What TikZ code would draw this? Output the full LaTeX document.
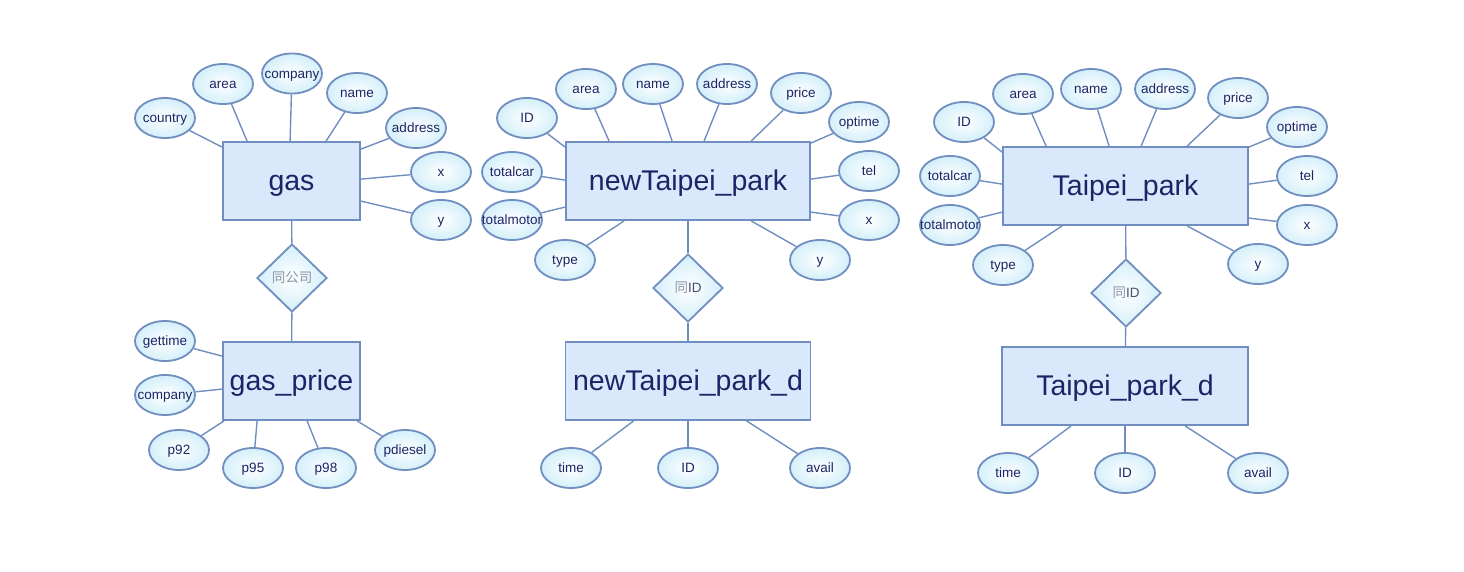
\documentclass[tikz,border=0pt]{standalone}
\usepackage{fontspec}
\setmainfont{Liberation Sans}
\newfontfamily\cjk{Noto Sans CJK SC}
\usetikzlibrary{shapes.geometric,calc}
\definecolor{entfill}{RGB}{218,232,252}
\definecolor{edgeblue}{RGB}{112,142,192}
\definecolor{attrout}{RGB}{212,239,250}
\definecolor{navy}{RGB}{28,36,102}
\definecolor{cjkgray}{RGB}{140,150,165}
\definecolor{idgray}{RGB}{70,80,110}
\newcommand{\mz}[1]{\makebox[0pt]{#1}}
\begin{document}
\begin{tikzpicture}[x=1pt,y=-1pt,
  ent/.style={draw=edgeblue, line width=1.8pt, fill=entfill, minimum height=78pt, inner sep=0pt, font=\fontsize{28.5}{30}\selectfont, text=navy, text height=25.8pt, text depth=6.04pt},
  attr/.style={ellipse, draw=edgeblue, line width=1.8pt, inner color=white, outer color=attrout, minimum width=60pt, minimum height=40pt, inner sep=0pt, font=\fontsize{13.5}{15}\selectfont, text=navy, text height=12.2pt, text depth=2.86pt},
  rel/.style={diamond, draw=edgeblue, line width=1.8pt, inner color=white, outer color=attrout, minimum width=70pt, minimum height=68pt, inner sep=0pt, font=\fontsize{13.5}{15}\selectfont, text height=12.2pt, text depth=2.86pt},
  conn/.style={draw=edgeblue, line width=1.4pt}]
\useasboundingbox[fill=white] (0,0) rectangle (1464,572);

% ---------- gas ----------
\node[ent, minimum width=137pt] (gas) at (291.5,181) {gas};
\node[attr] (gcountry) at (165,118) {\mz{country}};
\node[attr] (garea) at (223,84) {\mz{area}};
\node[attr] (gcomp) at (292,73.5) {\mz{company}};
\node[attr] (gname) at (357,93) {\mz{name}};
\node[attr] (gaddr) at (416,128) {\mz{address}};
\node[attr] (gx) at (441,172) {\mz{x}};
\node[attr] (gy) at (441,220) {\mz{y}};
\node[rel] (r1) at (292,278) {\mz{\cjk\color{cjkgray}同公司}};
\node[ent, minimum width=137pt] (gp) at (291.5,381) {gas\_price};
\node[attr] (gpt) at (165,341) {\mz{gettime}};
\node[attr] (gpc) at (165,395) {\mz{company}};
\node[attr] (p92) at (179,450) {\mz{p92}};
\node[attr] (p95) at (253,468) {\mz{p95}};
\node[attr] (p98) at (326,468) {\mz{p98}};
\node[attr] (pdiesel) at (405,450) {\mz{pdiesel}};

\draw[conn] (gcountry) -- ($(gas.north west)+(0,6)$);
\draw[conn] (garea) -- ($(gas.north west)+(25,0)$);
\draw[conn] (gcomp) -- ($(gas.north west)+(68,0)$);
\draw[conn] (gname) -- ($(gas.north west)+(104,0)$);
\draw[conn] (gaddr) -- ($(gas.north east)+(0,8)$);
\draw[conn] (gx) -- ($(gas.north east)+(0,38)$);
\draw[conn] (gy) -- ($(gas.north east)+(0,60)$);
\draw[conn] (gas) -- (r1);
\draw[conn] (r1) -- (gp);
\draw[conn] (gpt) -- ($(gp.north west)+(0,15)$);
\draw[conn] (gpc) -- ($(gp.north west)+(0,48)$);
\draw[conn] (p92) -- ($(gp.south west)+(2,0)$);
\draw[conn] (p95) -- ($(gp.south west)+(35,0)$);
\draw[conn] (p98) -- ($(gp.south west)+(85,0)$);
\draw[conn] (pdiesel) -- ($(gp.south west)+(135,0)$);

% ---------- newTaipei_park ----------
\node[ent, minimum width=244pt] (nt) at (688,181) {newTaipei\_park};
\node[attr] (ntid) at (527,118) {\mz{ID}};
\node[attr] (ntarea) at (586,89) {\mz{area}};
\node[attr] (ntname) at (653,84) {\mz{name}};
\node[attr] (ntaddr) at (727,84) {\mz{address}};
\node[attr] (ntprice) at (801,93) {\mz{price}};
\node[attr] (ntopt) at (859,122) {\mz{optime}};
\node[attr] (ntcar) at (512,172) {\mz{totalcar}};
\node[attr] (ntmotor) at (512,220) {\mz{totalmotor}};
\node[attr] (nttype) at (565,260) {\mz{type}};
\node[attr] (nttel) at (869,171) {\mz{tel}};
\node[attr] (ntx) at (869,220) {\mz{x}};
\node[attr] (nty) at (820,260) {\mz{y}};
\node[rel] (r2) at (688,288) {\mz{{\cjk\color{cjkgray}同}\color{idgray}ID}};
\node[ent, minimum width=245pt] (ntd) at (688,381) {newTaipei\_park\_d};
\node[attr] (ntdtime) at (571,468) {\mz{time}};
\node[attr] (ntdid) at (688,468) {\mz{ID}};
\node[attr] (ntdavail) at (820,468) {\mz{avail}};

\draw[conn] (ntid) -- ($(nt.north west)+(0,6)$);
\draw[conn] (ntarea) -- ($(nt.north west)+(44,0)$);
\draw[conn] (ntname) -- ($(nt.north west)+(107,0)$);
\draw[conn] (ntaddr) -- ($(nt.north west)+(139,0)$);
\draw[conn] (ntprice) -- ($(nt.north west)+(186,0)$);
\draw[conn] (ntopt) -- ($(nt.north east)+(0,2)$);
\draw[conn] (ntcar) -- ($(nt.north west)+(0,39)$);
\draw[conn] (ntmotor) -- ($(nt.north west)+(0,66)$);
\draw[conn] (nttype) -- ($(nt.south west)+(59,0)$);
\draw[conn] (nttel) -- ($(nt.north east)+(0,38)$);
\draw[conn] (ntx) -- ($(nt.north east)+(0,71)$);
\draw[conn] (nty) -- ($(nt.south west)+(186,0)$);
\draw[conn] (nt) -- (r2);
\draw[conn] (r2) -- (ntd);
\draw[conn] (ntdtime) -- ($(ntd.south west)+(69,0)$);
\draw[conn] (ntdid) -- (ntd);
\draw[conn] (ntdavail) -- ($(ntd.south west)+(182,0)$);

% ---------- Taipei_park ----------
\node[ent, minimum width=245pt] (tp) at (1125.5,186) {Taipei\_park};
\node[attr] (tpid) at (964,122) {\mz{ID}};
\node[attr] (tparea) at (1023,94) {\mz{area}};
\node[attr] (tpname) at (1091,89) {\mz{name}};
\node[attr] (tpaddr) at (1165,89) {\mz{address}};
\node[attr] (tpprice) at (1238,98) {\mz{price}};
\node[attr] (tpopt) at (1297,127) {\mz{optime}};
\node[attr] (tpcar) at (950,176) {\mz{totalcar}};
\node[attr] (tpmotor) at (950,225) {\mz{totalmotor}};
\node[attr] (tptype) at (1003,265) {\mz{type}};
\node[attr] (tptel) at (1307,176) {\mz{tel}};
\node[attr] (tpx) at (1307,225) {\mz{x}};
\node[attr] (tpy) at (1258,264) {\mz{y}};
\node[rel] (r3) at (1126,293) {\mz{{\cjk\color{cjkgray}同}\color{idgray}ID}};
\node[ent, minimum width=246pt] (tpd) at (1125,386) {Taipei\_park\_d};
\node[attr] (tpdtime) at (1008,473) {\mz{time}};
\node[attr] (tpdid) at (1125,473) {\mz{ID}};
\node[attr] (tpdavail) at (1258,473) {\mz{avail}};

\draw[conn] (tpid) -- ($(tp.north west)+(0,6)$);
\draw[conn] (tparea) -- ($(tp.north west)+(44,0)$);
\draw[conn] (tpname) -- ($(tp.north west)+(107,0)$);
\draw[conn] (tpaddr) -- ($(tp.north west)+(139,0)$);
\draw[conn] (tpprice) -- ($(tp.north west)+(185,0)$);
\draw[conn] (tpopt) -- ($(tp.north east)+(0,1)$);
\draw[conn] (tpcar) -- ($(tp.north west)+(0,38)$);
\draw[conn] (tpmotor) -- ($(tp.north west)+(0,66)$);
\draw[conn] (tptype) -- ($(tp.south west)+(60,0)$);
\draw[conn] (tptel) -- ($(tp.north east)+(0,38)$);
\draw[conn] (tpx) -- ($(tp.north east)+(0,72)$);
\draw[conn] (tpy) -- ($(tp.south west)+(185,0)$);
\draw[conn] (tp) -- (r3);
\draw[conn] (r3) -- (tpd);
\draw[conn] (tpdtime) -- ($(tpd.south west)+(70,0)$);
\draw[conn] (tpdid) -- (tpd);
\draw[conn] (tpdavail) -- ($(tpd.south west)+(184,0)$);
\end{tikzpicture}
\end{document}
